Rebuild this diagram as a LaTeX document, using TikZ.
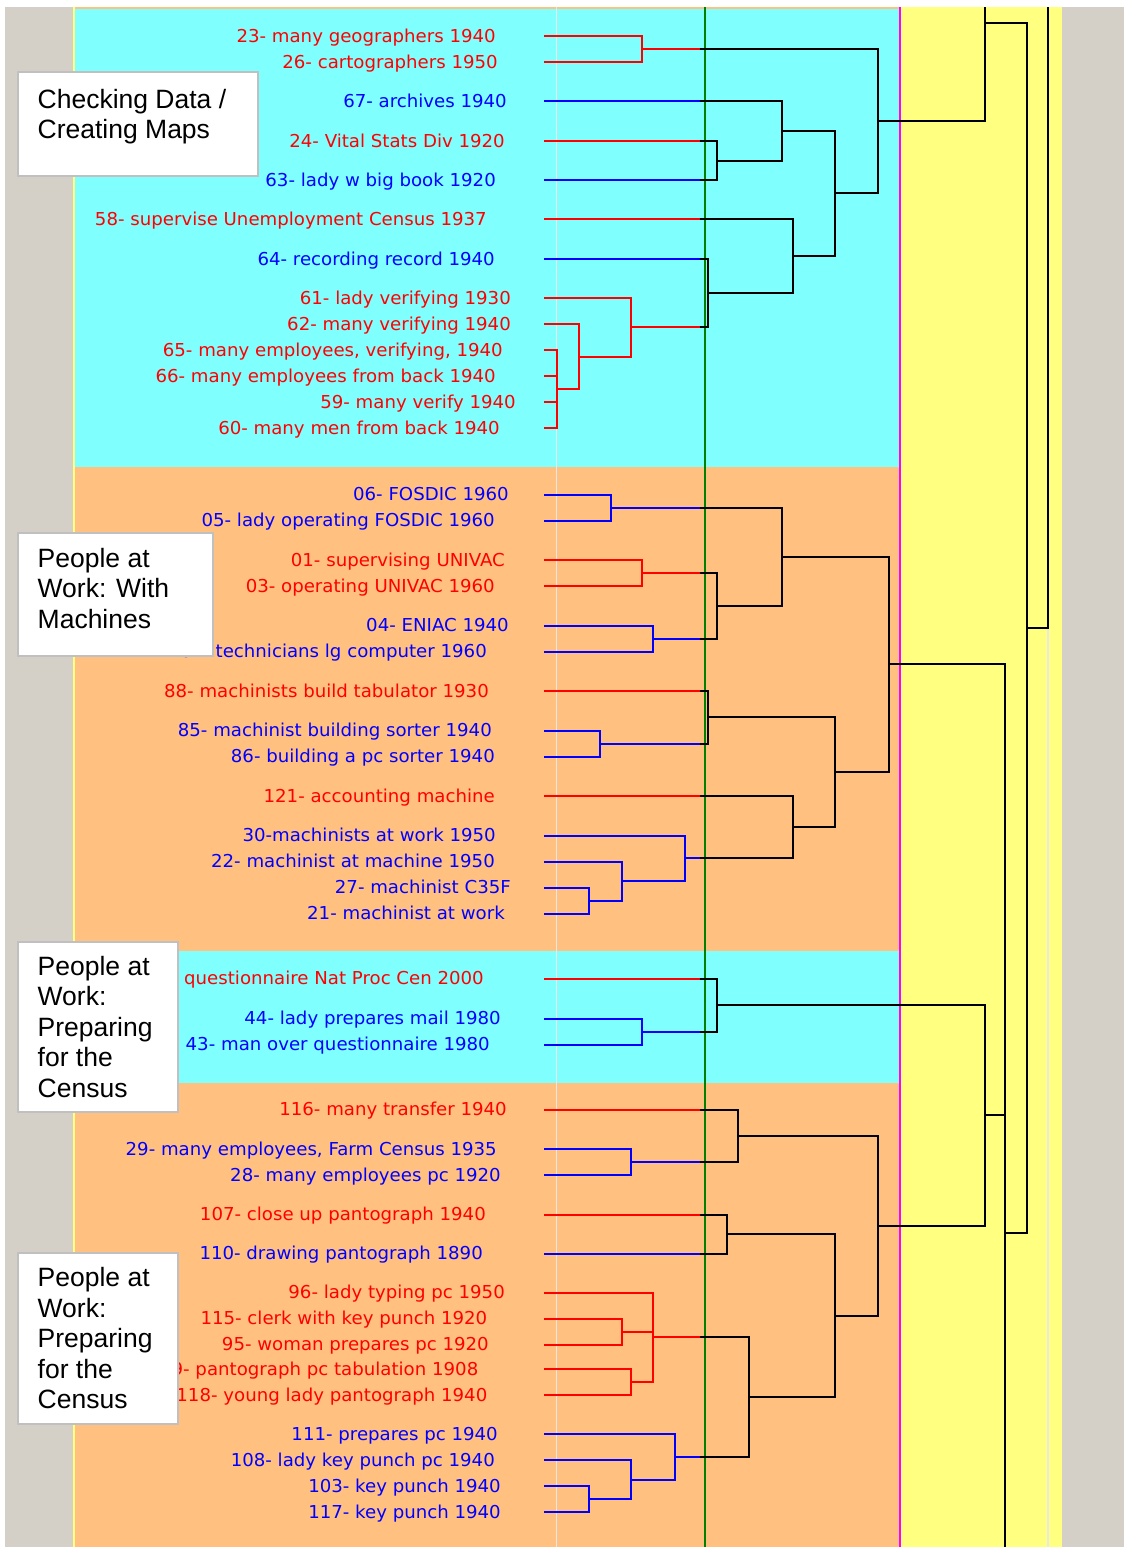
\documentclass[tikz,border=0pt]{standalone}
\usepackage{fontspec}
\setmainfont{Liberation Sans}
\newfontfamily\leaffont[FakeStretch=1.02]{DejaVu Sans}

\definecolor{paneCyan}{RGB}{128,255,255}
\definecolor{paneOrange}{RGB}{255,192,128}
\definecolor{paneYellow}{RGB}{255,255,128}
\definecolor{frameGray}{RGB}{212,208,200}
\definecolor{leafRed}{RGB}{255,0,0}
\definecolor{leafBlue}{RGB}{0,0,255}
\definecolor{cutGreen}{RGB}{0,128,0}
\definecolor{edgeMagenta}{RGB}{255,0,255}
\definecolor{guideGray}{RGB}{232,232,232}
\definecolor{boxBorder}{RGB}{192,192,192}

% coloured stub up to the cut line, black elbow beyond it
\newcommand\cutlink[3]{\draw[#1] (#2) -- (#2 -| cut); \draw[kw] (#2 -| cut) -| (#3);}
\newcommand\notelines[1]{\parbox[t]{220pt}{\raggedright #1}}

\begin{document}
\begin{tikzpicture}[x=1pt, y=-1pt,
  leaf/.style={font={\leaffont\fontsize{17.8pt}{20pt}\selectfont}, anchor=base east, inner sep=0pt},
  rl/.style={leaf, text=leafRed},
  bl/.style={leaf, text=leafBlue},
  rw/.style={draw=leafRed, line width=2pt},
  bw/.style={draw=leafBlue, line width=2pt},
  kw/.style={draw=black, line width=2pt},
  notebox/.style={draw=boxBorder, line width=2pt, fill=white, anchor=north west, inner sep=0pt},
  notetext/.style={font={\fontsize{26.5pt}{30.5pt}\selectfont}, anchor=base west, inner sep=0pt}]
\useasboundingbox (0,0) rectangle (1124,1547);

% window frame and panes
\fill[white] (0,0) rectangle (1124,1547);
\fill[frameGray] (5,7) rectangle (1124,1547);
\fill[paneCyan] (75,7) rectangle (901,467);
\fill[paneOrange] (75,467) rectangle (901,951);
\fill[paneCyan] (75,951) rectangle (901,1083);
\fill[paneOrange] (75,1083) rectangle (901,1547);
\fill[paneYellow] (901,7) rectangle (1062,1547);
\draw[paneOrange, line width=1.5pt] (75,7.75) -- (901,7.75);
\draw[paneYellow, line width=2pt] (74,7) -- (74,1547);

% guide lines
\draw[guideGray, line width=1.5pt] (556.5,7) -- (556.5,1547);
\draw[guideGray, line width=1.5pt] (1048,7) -- (1048,1547);
\draw[cutGreen, line width=2pt] (705,7) -- (705,1547);
\draw[edgeMagenta, line width=2pt] (900,7) -- (900,1547);

% leaf line starts
\coordinate (cut) at (700,0);
\foreach \i/\y in {1/36,2/62,3/101,4/141,5/180,6/219,7/259,8/298,9/324,10/350,11/376,12/402,13/428,
  14/494.5,15/520.5,16/560,17/586,18/625.5,19/651.5,20/691,21/730.5,22/756.5,23/796,24/835.5,25/861.5,26/887.5,27/913.5,
  28/978.5,29/1018.5,30/1044.5,
  31/1109.5,32/1149,33/1175,34/1214.5,35/1253.5,36/1292.5,37/1318.5,38/1344.5,39/1369,40/1395,41/1434,42/1460,43/1486,44/1512}
  \coordinate (s\i) at (544,\y);

% merge points
\coordinate (a12) at (642,49);
\coordinate (a45) at (716.5,160.5);
\coordinate (a345) at (782,130.75);
\coordinate (a1013) at (556.6,389);
\coordinate (a9) at (578.6,356.5);
\coordinate (a8) at (631,327.25);
\coordinate (a7) at (708,293.1);
\coordinate (a6) at (793,256.05);
\coordinate (a313) at (835,193.4);
\coordinate (aTop) at (878,121.2);

\coordinate (b1415) at (611,507.5);
\coordinate (b1617) at (642,573);
\coordinate (b1819) at (652.6,638.5);
\coordinate (b1619) at (716.5,605.75);
\coordinate (b1419) at (782,556.6);
\coordinate (b2122) at (600,743.5);
\coordinate (b2022) at (707.7,717.25);
\coordinate (b2627) at (589.4,900.5);
\coordinate (b25) at (622,881);
\coordinate (b24) at (685.3,858.25);
\coordinate (b23) at (792.8,827.1);
\coordinate (b2027) at (834.5,772.2);
\coordinate (bTop) at (889,664.4);

\coordinate (c2930) at (642,1031.5);
\coordinate (cTop) at (716.5,1005);

\coordinate (d3233) at (631,1162);
\coordinate (d31) at (738,1135.75);
\coordinate (d3435) at (727,1234);
\coordinate (d3738) at (622,1331.5);
\coordinate (d3940) at (631,1382);
\coordinate (d36) at (653,1337.25);
\coordinate (d4344) at (589,1499);
\coordinate (d42) at (631,1479.5);
\coordinate (d41) at (674.5,1456.75);
\coordinate (d3644) at (749,1397);
\coordinate (d3444) at (834.5,1315.5);
\coordinate (dTop) at (878,1225.6);

\coordinate (e985) at (985,1115.3);
\coordinate (r985) at (985,23);
\coordinate (r1005) at (1005,1233);
\coordinate (r1027) at (1027,628);
\coordinate (top985) at (985,7);
\coordinate (top1048) at (1048,7);
\coordinate (bot1005) at (1005,1547);

% first cyan group
\draw[rw] (s1) -| (a12); \draw[rw] (s2) -| (a12);
\cutlink{rw}{a12}{aTop}
\cutlink{bw}{s3}{a345}
\cutlink{rw}{s4}{a45}
\cutlink{bw}{s5}{a45}
\draw[kw] (a45) -| (a345);
\draw[kw] (a345) -| (a313);
\cutlink{rw}{s6}{a6}
\cutlink{bw}{s7}{a7}
\foreach \i in {10,11,12,13} \draw[rw] (s\i) -| (a1013);
\draw[rw] (s9) -| (a9); \draw[rw] (a1013) -| (a9);
\draw[rw] (s8) -| (a8); \draw[rw] (a9) -| (a8);
\cutlink{rw}{a8}{a7}
\draw[kw] (a7) -| (a6);
\draw[kw] (a6) -| (a313);
\draw[kw] (a313) -| (aTop);
\draw[kw] (aTop) -| (r985);
\draw[kw] (r985) -- (top985);
\draw[kw] (r985) -| (r1027);
\draw[kw] (r1027) -| (top1048);

% first orange group
\draw[bw] (s14) -| (b1415); \draw[bw] (s15) -| (b1415);
\cutlink{bw}{b1415}{b1419}
\draw[rw] (s16) -| (b1617); \draw[rw] (s17) -| (b1617);
\draw[bw] (s18) -| (b1819); \draw[bw] (s19) -| (b1819);
\cutlink{rw}{b1617}{b1619}
\cutlink{bw}{b1819}{b1619}
\draw[kw] (b1619) -| (b1419);
\draw[kw] (b1419) -| (bTop);
\cutlink{rw}{s20}{b2022}
\draw[bw] (s21) -| (b2122); \draw[bw] (s22) -| (b2122);
\cutlink{bw}{b2122}{b2022}
\draw[kw] (b2022) -| (b2027);
\cutlink{rw}{s23}{b23}
\draw[bw] (s26) -| (b2627); \draw[bw] (s27) -| (b2627);
\draw[bw] (s25) -| (b25); \draw[bw] (b2627) -| (b25);
\draw[bw] (s24) -| (b24); \draw[bw] (b25) -| (b24);
\cutlink{bw}{b24}{b23}
\draw[kw] (b23) -| (b2027);
\draw[kw] (b2027) -| (bTop);
\draw[kw] (bTop) -| (r1005);

% second cyan group
\cutlink{rw}{s28}{cTop}
\draw[bw] (s29) -| (c2930); \draw[bw] (s30) -| (c2930);
\cutlink{bw}{c2930}{cTop}
\draw[kw] (cTop) -| (e985);

% second orange group
\cutlink{rw}{s31}{d31}
\draw[bw] (s32) -| (d3233); \draw[bw] (s33) -| (d3233);
\cutlink{bw}{d3233}{d31}
\draw[kw] (d31) -| (dTop);
\cutlink{rw}{s34}{d3435}
\cutlink{bw}{s35}{d3435}
\draw[kw] (d3435) -| (d3444);
\draw[rw] (s36) -| (d36);
\draw[rw] (s37) -| (d3738); \draw[rw] (s38) -| (d3738);
\draw[rw] (d3738) -| (d36);
\draw[rw] (s39) -| (d3940); \draw[rw] (s40) -| (d3940);
\draw[rw] (d3940) -| (d36);
\cutlink{rw}{d36}{d3644}
\draw[bw] (s43) -| (d4344); \draw[bw] (s44) -| (d4344);
\draw[bw] (s42) -| (d42); \draw[bw] (d4344) -| (d42);
\draw[bw] (s41) -| (d41); \draw[bw] (d42) -| (d41);
\cutlink{bw}{d41}{d3644}
\draw[kw] (d3644) -| (d3444);
\draw[kw] (d3444) -| (dTop);
\draw[kw] (dTop) -| (e985);
\draw[kw] (e985) -| (r1005);
\draw[kw] (r1005) -- (bot1005);
\draw[kw] (r1005) -| (r1027);

% leaf labels
\node[rl] (t1) at (496,42) {23- many geographers 1940};
\node[rl] (t2) at (498,68) {26- cartographers 1950};
\node[bl] (t3) at (507,107) {67- archives 1940};
\node[rl] (t4) at (505,147) {24- Vital Stats Div 1920};
\node[bl] (t5) at (496,186) {63- lady w big book 1920};
\node[rl] (t6) at (487,225) {58- supervise Unemployment Census 1937};
\node[bl] (t7) at (495,265) {64- recording record 1940};
\node[rl] (t8) at (511,304) {61- lady verifying 1930};
\node[rl] (t9) at (511,330) {62- many verifying 1940};
\node[rl] (t10) at (503,356) {65- many employees, verifying, 1940};
\node[rl] (t11) at (496,382) {66- many employees from back 1940};
\node[rl] (t12) at (516,408) {59- many verify 1940};
\node[rl] (t13) at (500,434) {60- many men from back 1940};
\node[bl] (t14) at (509,500.5) {06- FOSDIC 1960};
\node[bl] (t15) at (495,526.5) {05- lady operating FOSDIC 1960};
\node[rl] (t16) at (505,566) {01- supervising UNIVAC};
\node[rl] (t17) at (495,592) {03- operating UNIVAC 1960};
\node[bl] (t18) at (509,631.5) {04- ENIAC 1940};
\node[bl] (t19) at (487,657.5) {02- technicians lg computer 1960};
\node[rl] (t20) at (489,697) {88- machinists build tabulator 1930};
\node[bl] (t21) at (492,736.5) {85- machinist building sorter 1940};
\node[bl] (t22) at (495,762.5) {86- building a pc sorter 1940};
\node[rl] (t23) at (495,802) {121- accounting machine};
\node[bl] (t24) at (496,841.5) {30-machinists at work 1950};
\node[bl] (t25) at (495,867.5) {22- machinist at machine 1950};
\node[bl] (t26) at (511,893.5) {27- machinist C35F};
\node[bl] (t27) at (505,919.5) {21- machinist at work};
\node[rl] (t28) at (484,984.5) {questionnaire Nat Proc Cen 2000};
\node[bl] (t29) at (501,1024.5) {44- lady prepares mail 1980};
\node[bl] (t30) at (490,1050.5) {43- man over questionnaire 1980};
\node[rl] (t31) at (507,1115.5) {116- many transfer 1940};
\node[bl] (t32) at (497,1155) {29- many employees, Farm Census 1935};
\node[bl] (t33) at (501,1181) {28- many employees pc 1920};
\node[rl] (t34) at (486,1220.5) {107- close up pantograph 1940};
\node[bl] (t35) at (483,1259.5) {110- drawing pantograph 1890};
\node[rl] (t36) at (505,1298.5) {96- lady typing pc 1950};
\node[rl] (t37) at (487.5,1324.5) {115- clerk with key punch 1920};
\node[rl] (t38) at (489,1350.5) {95- woman prepares pc 1920};
\node[rl] (t39) at (478.5,1375) {109- pantograph pc tabulation 1908};
\node[rl] (t40) at (487.5,1401) {118- young lady pantograph 1940};
\node[bl] (t41) at (498,1440) {111- prepares pc 1940};
\node[bl] (t42) at (495,1466) {108- lady key punch pc 1940};
\node[bl] (t43) at (501,1492) {103- key punch 1940};
\node[bl] (t44) at (501,1518) {117- key punch 1940};

% group notes
\node[notebox, minimum width=240pt, minimum height=104pt] (note1) at (17,71) {};
\node[notetext] (note1t) at (37.5,108) {\notelines{Checking Data /\\Creating Maps}};
\node[notebox, minimum width=195pt, minimum height=123pt] (note2) at (17,532) {};
\node[notetext] (note2t) at (37.5,567) {\notelines{People at\\Work: With\\Machines}};
\node[notebox, minimum width=160pt, minimum height=170pt] (note3) at (17,941) {};
\node[notetext] (note3t) at (37.5,975) {\notelines{People at\\Work:\\Preparing\\for the\\Census}};
\node[notebox, minimum width=160pt, minimum height=171pt] (note4) at (17,1252) {};
\node[notetext] (note4t) at (37.5,1286.5) {\notelines{People at\\Work:\\Preparing\\for the\\Census}};
\end{tikzpicture}
\end{document}
